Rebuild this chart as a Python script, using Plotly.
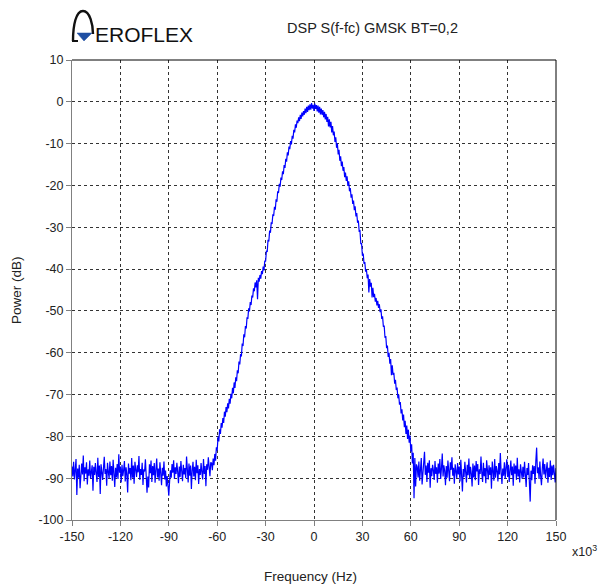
import numpy as np
import plotly.graph_objects as go

# ---------------- data ----------------
freq_start_khz = -150.0
freq_step_khz = 0.5

floor_left_db = [
    -87.2, -89.6, -86.1, -90.3, -88.0, -85.4, -94.0, -87.7, -89.9, -86.8,
    -92.4, -88.3, -86.5, -89.1, -84.6, -90.7, -87.4, -88.9, -86.2, -91.5,
    -87.9, -89.4, -85.8, -90.1, -88.6, -86.9, -93.0, -87.3, -89.2, -86.4,
    -88.8, -90.9, -85.1, -89.7, -87.0, -93.8, -86.7, -88.2, -90.4, -87.6,
    -84.9, -89.0, -87.8, -91.8, -86.3, -88.5, -90.0, -86.0, -89.3, -87.1,
    -90.6, -85.6, -88.4, -92.1, -87.5, -89.8, -86.6, -90.2, -84.3, -88.7,
    -87.2, -91.0, -86.8, -89.5, -88.1, -85.9, -90.8, -87.4, -89.1, -93.4,
    -86.5, -88.9, -87.6, -90.5, -85.2, -89.9, -87.0, -91.3, -86.1, -88.3,
    -89.7, -86.9, -88.6, -84.7, -90.4, -87.8, -89.2, -86.3, -91.6, -87.9,
    -88.4, -85.5, -90.1, -93.5, -89.6, -92.2, -86.7, -88.8, -85.8, -90.9,
    -87.1, -89.3, -86.4, -91.1, -88.0, -85.3, -89.8, -87.7, -90.6, -86.2,
    -88.9, -91.7, -87.5, -89.4, -86.0, -90.3, -88.2, -92.0, -89.5, -93.1,
    -94.2, -90.8, -88.1, -89.9, -86.6, -88.7, -85.7, -90.2, -87.4, -89.0,
    -86.3, -88.5, -91.2, -87.2, -89.7, -85.9, -88.4, -90.7, -86.8, -89.1,
    -87.6, -90.0, -84.8, -88.3, -91.0, -86.5, -89.4, -87.0, -92.6, -88.2,
    -86.1, -89.6, -87.3, -90.5, -85.6, -88.8, -86.9, -91.4, -87.8, -89.2,
    -86.4, -88.6, -90.3, -85.4, -89.0, -87.1, -91.9, -86.7, -88.0, -85.0,
    -87.9, -89.5, -86.2,
]

main_lobe_db = [
    -86.4, -88.1, -85.3, -86.9, -84.2, -85.8, -82.6, -83.4, -80.1, -81.2,
    -78.3, -79.4, -76.8, -77.9, -75.6, -76.8, -74.1, -75.3, -73.0, -74.2,
    -72.1, -73.3, -71.0, -72.2, -69.8, -70.9, -68.4, -69.7, -67.1, -68.4,
    -65.9, -66.8, -64.2, -64.9, -62.1, -62.8, -60.3, -60.9, -57.8, -58.4,
    -55.6, -56.3, -53.6, -54.2, -51.5, -51.9, -49.4, -50.1, -47.9, -48.6,
    -46.3, -46.8, -44.6, -45.3, -43.2, -44.4, -42.7, -47.2, -42.1, -43.0,
    -41.4, -42.3, -40.5, -41.2, -39.4, -40.3, -38.0, -38.2, -35.6, -35.9,
    -33.0, -33.4, -30.8, -31.3, -28.8, -29.2, -26.9, -27.3, -25.1, -25.8,
    -23.3, -23.9, -21.4, -21.8, -19.6, -20.3, -18.1, -18.7, -16.6, -17.3,
    -15.1, -15.8, -13.6, -14.3, -12.1, -12.8, -10.7, -11.3, -9.4, -10.2,
    -8.1, -8.8, -6.7, -7.3, -5.4, -6.2, -4.5, -5.1, -3.7, -4.6,
    -3.1, -4.1, -2.6, -3.5, -2.2, -3.1, -1.6, -2.7, -1.2, -2.4,
    -0.9, -2.0, -0.6, -1.9, -0.3, -1.6, -0.7, -2.2, -0.4, -1.7,
    -0.8, -2.3, -0.9, -2.6, -1.2, -3.0, -1.6, -3.1, -2.0, -3.7,
    -2.4, -4.2, -2.9, -4.8, -3.6, -5.9, -4.2, -6.1, -4.8, -7.3,
    -5.8, -8.0, -7.1, -9.6, -8.5, -11.0, -10.0, -12.6, -11.5, -14.1,
    -13.0, -15.4, -14.3, -16.5, -15.6, -18.0, -16.9, -18.9, -17.8, -20.1,
    -19.0, -21.4, -20.6, -22.9, -22.1, -24.4, -23.6, -25.9, -25.0, -27.4,
    -26.6, -28.9, -28.4, -30.9, -30.8, -33.9, -33.9, -36.8, -36.3, -38.7,
    -38.3, -40.6, -40.1, -42.2, -41.3, -45.6, -42.4, -44.2, -43.3, -46.8,
    -44.5, -46.7, -45.9, -47.8, -46.9, -48.7, -47.6, -49.3, -48.4, -50.3,
    -49.6, -51.9, -51.3, -53.8, -53.5, -56.4, -56.0, -58.9, -58.3, -61.0,
    -60.0, -62.6, -61.5, -65.4, -63.0, -65.3, -64.8, -67.4, -66.5, -68.9,
    -68.3, -70.9, -70.0, -72.4, -71.8, -74.5, -73.5, -76.2, -74.8, -77.8,
    -76.3, -79.4, -77.4, -80.6, -78.4, -81.5, -79.8, -83.6, -81.9, -86.5,
    -83.9, -94.8, -85.2, -92.0, -86.7,
]

floor_right_db = [
    -87.3, -89.8, -86.0, -90.6, -87.9, -85.2, -91.5, -88.4, -86.6, -83.7,
    -89.2, -87.0, -90.9, -86.3, -88.7, -85.7, -92.3, -87.6, -89.5, -86.8,
    -88.1, -90.4, -85.9, -89.0, -87.4, -91.1, -86.5, -88.9, -85.4, -90.2,
    -87.7, -84.1, -89.6, -86.9, -88.3, -91.7, -87.1, -89.9, -85.8, -88.6,
    -90.7, -86.2, -88.0, -85.0, -89.4, -87.5, -91.3, -86.7, -88.8, -90.0,
    -86.4, -89.1, -87.2, -90.8, -85.6, -88.2, -93.2, -87.8, -89.7, -86.1,
    -88.5, -91.0, -86.8, -89.3, -85.3, -90.1, -87.3, -88.9, -92.0, -86.5,
    -89.8, -87.0, -90.5, -85.9, -88.4, -86.6, -91.6, -87.9, -89.0, -84.8,
    -88.7, -90.9, -86.3, -89.5, -87.6, -91.2, -85.7, -88.1, -90.3, -86.9,
    -89.2, -87.4, -92.5, -86.0, -88.8, -90.6, -85.4, -89.9, -87.1, -88.3,
    -90.8, -86.4, -89.1, -84.0, -88.6, -91.4, -87.7, -89.4, -86.2, -90.2,
    -87.5, -85.5, -89.7, -86.8, -90.9, -88.0, -85.8, -89.3, -87.2, -91.8,
    -86.5, -88.9, -87.0, -90.4, -85.1, -89.6, -87.9, -91.0, -86.7, -88.4,
    -90.1, -87.3, -89.8, -86.1, -88.6, -92.1, -87.6, -89.2, -86.4, -90.7,
    -95.6, -88.2, -90.5, -86.9, -89.0, -87.1, -91.3, -85.9, -82.7, -88.8,
    -87.4, -90.2, -86.0, -89.5, -91.7, -87.8, -85.3, -89.1, -86.6, -90.0,
    -88.3, -86.2, -91.1, -87.5, -89.7, -85.8, -90.4, -87.0, -89.3, -86.8,
    -88.9, -91.0, -87.6,
]

power_db = floor_left_db + main_lobe_db + floor_right_db
freq_khz = freq_start_khz + freq_step_khz * np.arange(len(power_db))

x_ticks = [-150, -120, -90, -60, -30, 0, 30, 60, 90, 120, 150]
y_ticks = [10, 0, -10, -20, -30, -40, -50, -60, -70, -80, -90, -100]

title_text = "DSP S(f-fc) GMSK BT=0,2"
x_label = "Frequency (Hz)"
y_label = "Power (dB)"
brand = "EROFLEX"

# ---------------- layout helpers ----------------
W, H = 600, 586
L, R, T, B = 72, 556, 60, 520


def px(x):
    return (x - L) / (R - L)


def py(y):
    return (B - y) / (B - T)


FONT = "Liberation Sans, Arial, sans-serif"
TXT = "#222222"
GRID = "#333333"
AXIS = "#808080"

fig = go.Figure()
fig.add_trace(go.Scatter(
    x=freq_khz, y=power_db, mode="lines",
    line=dict(color="#0000FF", width=1.2),
    hoverinfo="x+y", showlegend=False,
))

axis_common = dict(
    showgrid=True, gridcolor=GRID, gridwidth=1, griddash="3px,3px",
    zeroline=False, showline=True, linecolor=AXIS, linewidth=1,
    ticks="outside", ticklen=5, tickcolor=AXIS, tickwidth=1,
    tickfont=dict(family=FONT, size=12.5, color=TXT),
    mirror=False,
)

fig.update_layout(
    width=W, height=H,
    margin=dict(l=L, r=W - R, t=T, b=H - B),
    paper_bgcolor="white", plot_bgcolor="white",
    xaxis=dict(range=[-150, 150], tickvals=x_ticks,
               ticktext=[str(v) for v in x_ticks], **axis_common),
    yaxis=dict(range=[-100, 10], tickvals=y_ticks,
               ticktext=[str(v) for v in y_ticks], **axis_common),
)

# top and right frame lines (black)
fig.add_shape(type="line", xref="paper", yref="paper", x0=0, x1=1, y0=1, y1=1,
              line=dict(color="#000000", width=1))
fig.add_shape(type="line", xref="paper", yref="paper", x0=1, x1=1, y0=0, y1=1,
              line=dict(color="#000000", width=1))


def label(text, x, y, size, angle=0):
    fig.add_annotation(text=text, xref="paper", yref="paper",
                       x=px(x), y=py(y), xanchor="center", yanchor="middle",
                       textangle=angle, showarrow=False,
                       font=dict(family=FONT, size=size, color=TXT))


label(title_text, 372, 28, 14.5)
label(y_label, 16, 290, 13.5, angle=-90)
label(x_label, 310, 576, 13.5)
label("x10<sup>3</sup>", 584, 551, 12.5)

# logo
fig.add_annotation(text=brand, xref="paper", yref="paper",
                   x=px(93), y=py(41), xanchor="left", yanchor="bottom",
                   showarrow=False, yshift=-7,
                   font=dict(family="Liberation Sans, Arial, sans-serif",
                             size=21, color="#111111"))


def P(x, y):
    return f"{px(x):.5f},{py(y):.5f}"


arch = (f"M {P(73,41)} C {P(73,25)} {P(76,11)} {P(83,11)} "
        f"C {P(90,11)} {P(93,25)} {P(93,34)}")
fig.add_shape(type="path", xref="paper", yref="paper", path=arch,
              line=dict(color="#111111", width=2.4))
tri = f"M {P(77,33)} L {P(92,33)} L {P(84,41)} Z"
fig.add_shape(type="path", xref="paper", yref="paper", path=tri,
              fillcolor="#1F4FA3", line=dict(color="#1F4FA3", width=0.5))
fig.add_shape(type="line", xref="paper", yref="paper",
              x0=px(72), x1=px(78), y0=py(41), y1=py(41),
              line=dict(color="#111111", width=2))

fig.write_html("out.html")
